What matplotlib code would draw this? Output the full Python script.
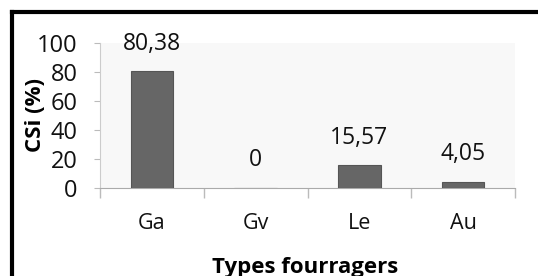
import matplotlib.pyplot as plt
from matplotlib.lines import Line2D
import numpy as np

categories = ["Ga", "Gv", "Le", "Au"]
values = [80.38, 0, 15.57, 4.05]
value_labels = ["80,38", "0", "15,57", "4,05"]

plt.rcParams['font.family'] = ['Open Sans', 'DejaVu Sans']

fig = plt.figure(figsize=(5.38, 2.76), dpi=100)
ax = fig.add_axes([100/538, 1-188/276, 415/538, 145/276])
ax.set_facecolor('#f8f8f8')

x = np.arange(len(categories))
ax.bar(x, values, width=0.41, color='#666666', edgecolor='#555555', linewidth=0.8, zorder=3)

for xi, v, lab in zip(x, values, value_labels):
    ax.annotate(lab, (xi, v), xytext=(0, 20), textcoords='offset points',
                ha='center', va='center', fontsize=16.5, color='#111111')

ax.set_xlim(-0.5, 3.5)
ax.set_ylim(0, 100)
ax.set_yticks([0, 20, 40, 60, 80, 100])
ax.tick_params(axis='y', labelsize=17, length=4, color='#bbbbbb', pad=12, labelcolor='#111111')

ax.set_xticks(x)
ax.set_xticklabels(categories)
ax.set_xticks(np.arange(-0.5, 4, 1), minor=True)
ax.tick_params(axis='x', which='major', length=0, pad=18, labelsize=15.5, labelcolor='#111111')
ax.tick_params(axis='x', which='minor', length=7, color='#bbbbbb', width=1)

for s in ['top', 'right']:
    ax.spines[s].set_visible(False)
ax.spines['left'].set_color('#cccccc')
ax.spines['bottom'].set_color('#aaaaaa')

ax.set_ylabel("CSi (%)", fontsize=16, fontweight='bold')
ax.yaxis.set_label_coords(-0.13, 0.5)
fig.text(305/538, 1-273/276, "Types fourragers", fontsize=16, fontweight='bold',
         ha='center', va='baseline')

# scanned frame border
fig.add_artist(Line2D([12/538, 1.0], [1-12/276, 1-12/276], transform=fig.transFigure, color='black', lw=3))
fig.add_artist(Line2D([12/538, 12/538], [0.0, 1-12/276], transform=fig.transFigure, color='black', lw=3))

fig.savefig("out.png", dpi=100)
